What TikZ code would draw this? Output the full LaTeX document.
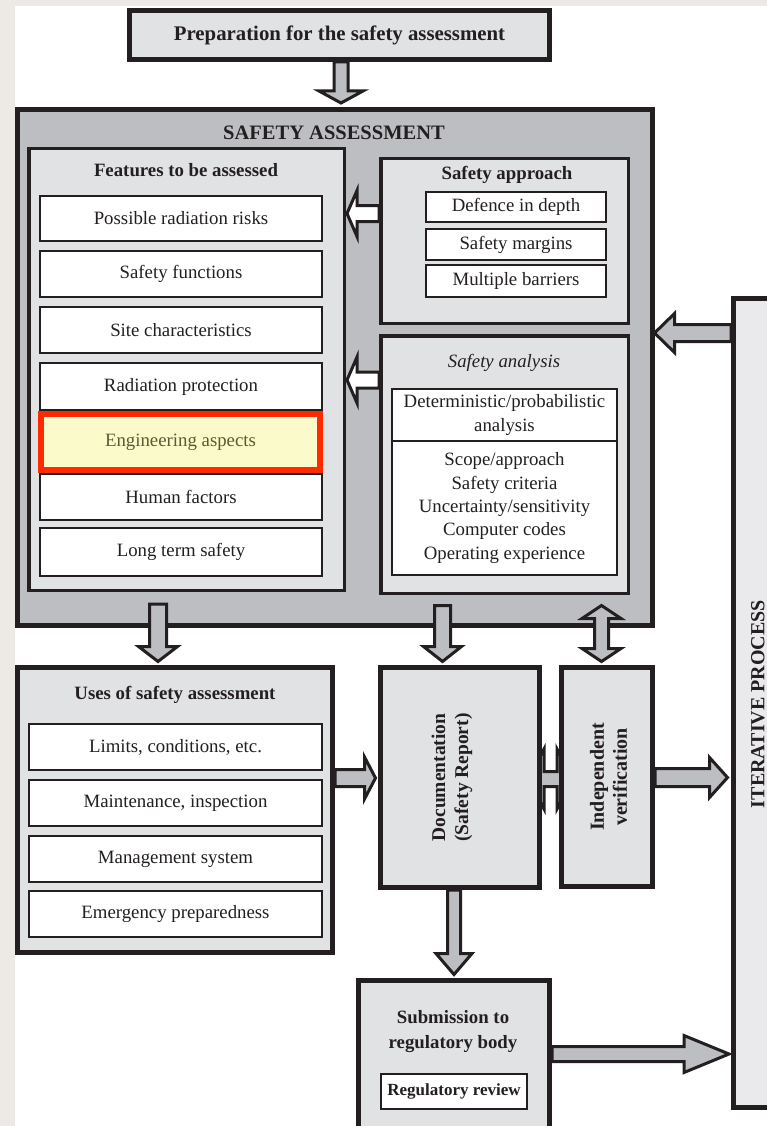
\documentclass[tikz,border=0pt]{standalone}
\usepackage{fontspec}
\setmainfont{Liberation Serif}
\usetikzlibrary{calc}
\definecolor{ink}{HTML}{231F20}
\definecolor{pale}{HTML}{E1E2E4}
\definecolor{midgrey}{HTML}{BDBEC2}
\definecolor{iterbg}{HTML}{EAEAEC}
\definecolor{beige}{HTML}{EDEAE5}
\definecolor{hiyellow}{HTML}{FBFACB}
\definecolor{hired}{HTML}{FF2A00}
\definecolor{olive}{HTML}{5C5A34}
\tikzset{
  heavybox/.style={draw=ink, line width=5pt, fill=pale, inner sep=0pt},
  midbox/.style={draw=ink, line width=3.5pt, fill=pale, inner sep=0pt},
  itembox/.style={draw=ink, line width=1.8pt, fill=white, inner sep=0pt, text=ink,
    font=\fontsize{18.8}{23.3}\selectfont, align=center},
  ttl/.style={text=ink, font=\bfseries\fontsize{18.8}{23.3}\selectfont, align=center, inner sep=0pt},
  blockarrow/.style={draw=ink, line width=3pt, line join=miter, fill=midgrey},
}
% block arrow: [fill]{from}{to}{shaft half}{head half}{head length}
\newcommand\blockarr[6][midgrey]{%
  \coordinate (ba-h) at ($(#3)!#6!(#2)$);
  \draw[blockarrow, fill=#1]
    ($(#2)!#4!90:(#3)$) -- ($(ba-h)!#4!90:(#3)$) -- ($(ba-h)!#5!90:(#3)$) -- (#3)
    -- ($(ba-h)!#5!-90:(#3)$) -- ($(ba-h)!#4!-90:(#3)$) -- ($(#2)!#4!-90:(#3)$) -- cycle;
}
% double block arrow: {from}{to}{shaft half}{head half}{head length}
\newcommand\dblarr[5]{%
  \coordinate (da-h1) at ($(#1)!#5!(#2)$);
  \coordinate (da-h2) at ($(#2)!#5!(#1)$);
  \draw[blockarrow]
    (#1) -- ($(da-h1)!#4!90:(#2)$) -- ($(da-h1)!#3!90:(#2)$) -- ($(da-h2)!#3!-90:(#1)$)
    -- ($(da-h2)!#4!-90:(#1)$) -- (#2) -- ($(da-h2)!#4!90:(#1)$) -- ($(da-h2)!#3!90:(#1)$)
    -- ($(da-h1)!#3!-90:(#2)$) -- ($(da-h1)!#4!-90:(#2)$) -- cycle;
}
\begin{document}
\begin{tikzpicture}[x=1pt,y=-1pt]
\useasboundingbox (0,0) rectangle (767,1126);
\clip (0,0) rectangle (767,1126);
\fill[beige] (0,0) rectangle (767,1126);
\fill[white] (15,6) rectangle (767,1126);

% top
\node[heavybox, minimum width=420pt, minimum height=49pt, text=ink,
  font=\bfseries\fontsize{20.8}{25}\selectfont] (prep) at (339.5,35) {Preparation for the safety assessment};

% safety assessment
\node[heavybox, fill=midgrey, minimum width=635pt, minimum height=516pt] (SA) at (335,367.5) {};
\node[ttl, font=\bfseries\fontsize{20.5}{24}\selectfont] (SAt) at (334,133) {SAFETY ASSESSMENT};

\node[midbox, minimum width=315.5pt, minimum height=441.5pt] (features) at (186.5,369.5) {};
\node[ttl] (featt) at (186,170) {Features to be assessed};
\node[itembox, minimum width=282pt, minimum height=45pt] (f1) at (181,218.5) {Possible radiation risks};
\node[itembox, minimum width=282pt, minimum height=46pt] (f2) at (181,274) {Safety functions};
\node[itembox, minimum width=282pt, minimum height=46pt] (f3) at (181,330) {Site characteristics};
\node[itembox, minimum width=282pt, minimum height=47pt] (f4) at (181,386.5) {Radiation protection};
\node[itembox, minimum width=282pt, minimum height=46pt] (f6) at (181,497) {Human factors};
\node[itembox, minimum width=282pt, minimum height=48pt] (f7) at (181,552) {Long term safety};
\node[itembox, draw=hired, line width=6pt, fill=hiyellow, text=olive,
  minimum width=279pt, minimum height=56pt] (f5) at (180.5,442) {Engineering aspects};

\node[midbox, minimum width=247.5pt, minimum height=164.5pt] (sapp) at (504.5,241) {};
\node[ttl] (sappt) at (507,175) {Safety approach};
\node[itembox, minimum width=180pt, minimum height=30pt] (s1) at (516,207) {Defence in depth};
\node[itembox, minimum width=180pt, minimum height=31pt] (s2) at (516,244.5) {Safety margins};
\node[itembox, minimum width=180pt, minimum height=32pt] (s3) at (516,281) {Multiple barriers};

\node[midbox, minimum width=247.5pt, minimum height=257.5pt] (sana) at (504.5,464.5) {};
\node[ttl, font=\itshape\fontsize{18.8}{23.3}\selectfont] (sanat) at (504,363) {Safety analysis};
\node[itembox, minimum width=225pt, minimum height=52pt] (d1) at (504.5,415) {Deterministic/probabilistic\\analysis};
\node[itembox, minimum width=225pt, minimum height=134pt] (d2) at (504.5,508) {Scope/approach\\Safety criteria\\Uncertainty/sensitivity\\Computer codes\\Operating experience};

% white arrows from safety approach / analysis to features
\coordinate (w1s) at ($(sapp.west)+(0,-27.5)$);
\coordinate (w1e) at ($(features.east)+(1,-156)$);
\blockarr[white]{w1s}{w1e}{8pt}{23pt}{10pt}
\coordinate (w2s) at ($(sana.west)+(0,-84.5)$);
\coordinate (w2e) at ($(features.east)+(1,10.5)$);
\blockarr[white]{w2s}{w2e}{8pt}{23pt}{10pt}

% uses
\node[heavybox, minimum width=315pt, minimum height=285pt] (uses) at (175,810) {};
\node[ttl] (usest) at (175,695) {Uses of safety assessment};
\node[itembox, minimum width=293pt, minimum height=46pt] (u1) at (175.5,747) {Limits, conditions, etc.};
\node[itembox, minimum width=293pt, minimum height=46pt] (u2) at (175.5,803) {Maintenance, inspection};
\node[itembox, minimum width=293pt, minimum height=46pt] (u3) at (175.5,859) {Management system};
\node[itembox, minimum width=293pt, minimum height=46pt] (u4) at (175.5,914) {Emergency preparedness};

% iterative process
\node[heavybox, fill=iterbg, minimum width=49pt, minimum height=809pt] (iter) at (758,703) {};
\node[ttl, rotate=90, font=\bfseries\fontsize{20}{24}\selectfont] (itert) at (758,704) {ITERATIVE PROCESS};

% double arrow between documentation and verification (heads mostly hidden)
\coordinate (a7s) at (528,779);
\coordinate (a7e) at (573,779);
\dblarr{a7s}{a7e}{7.5pt}{30pt}{16pt}

% documentation and verification
\node[heavybox, minimum width=159pt, minimum height=220pt] (doc) at (460,777.5) {};
\node[ttl, rotate=90, font=\bfseries\fontsize{19.5}{23}\selectfont] (doct) at ($(doc.center)+(-8,0)$) {Documentation\\(Safety Report)};
\node[heavybox, minimum width=91pt, minimum height=219pt] (indep) at (607,777) {};
\node[ttl, rotate=90, font=\bfseries\fontsize{20}{23}\selectfont] (indept) at ($(indep.center)+(1.5,0)$) {Independent\\verification};

% submission
\node[heavybox, minimum width=191pt, minimum height=160pt] (sub) at (454,1060) {};
\node[ttl, font=\bfseries\fontsize{18.8}{25}\selectfont] (subt) at (453,1032) {Submission to\\regulatory body};
\node[itembox, font=\bfseries\fontsize{17}{20}\selectfont, minimum width=146pt, minimum height=35pt] (rr) at (454,1091.5) {Regulatory review};

% arrows
\coordinate (a1s) at ($(prep.south)+(1.5,0)$);
\coordinate (a1e) at ($(SA.north)+(6,-4)$);
\blockarr{a1s}{a1e}{7pt}{22pt}{12pt}

\coordinate (a2s) at ($(features.south)+(-28.5,12)$);
\coordinate (a2e) at ($(uses.north)+(-17,-3.5)$);
\blockarr{a2s}{a2e}{8.5pt}{19.5pt}{15pt}

\coordinate (a3s) at ($(SA.south)+(107.5,-22.5)$);
\coordinate (a3e) at ($(doc.north)+(-17.5,-3.5)$);
\blockarr{a3s}{a3e}{8pt}{19pt}{15pt}

\coordinate (a4s) at ($(SA.south)+(266.5,-22.5)$);
\coordinate (a4e) at ($(indep.north)+(-5.5,-3.5)$);
\dblarr{a4s}{a4e}{7pt}{19.5pt}{13pt}

\coordinate (a5s) at ($(uses.east)+(0,-32)$);
\coordinate (a5e) at ($(doc.west)+(-2.5,0.5)$);
\blockarr{a5s}{a5e}{8.5pt}{21pt}{11pt}

\coordinate (a6s) at ($(indep.east)+(0,0.5)$);
\coordinate (a6e) at ($(iter.west)+(-3.5,74.5)$);
\blockarr{a6s}{a6e}{9pt}{20pt}{18pt}

\coordinate (a8s) at ($(iter.west)+(0,-370)$);
\coordinate (a8e) at ($(SA.east)+(-0.5,-34.5)$);
\blockarr{a8s}{a8e}{8.5pt}{19.5pt}{20pt}

\coordinate (a9s) at ($(doc.south)+(-6,0)$);
\coordinate (a9e) at ($(sub.north)+(0,-3)$);
\blockarr{a9s}{a9e}{6.5pt}{18pt}{21pt}

\coordinate (a10s) at ($(sub.east)+(0,-6)$);
\coordinate (a10e) at ($(iter.west)+(-2,351)$);
\blockarr{a10s}{a10e}{7.5pt}{18.5pt}{45pt}
\end{tikzpicture}
\end{document}
